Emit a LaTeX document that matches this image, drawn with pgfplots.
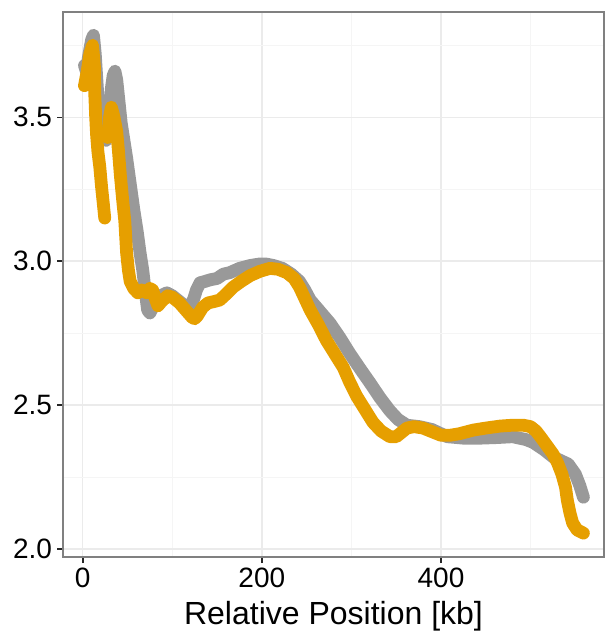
\documentclass[border=0pt]{standalone}
\usepackage{pgfplots}
\pgfplotsset{compat=1.18}
\usepackage{fontspec}
\setmainfont{Liberation Sans}
\definecolor{grayc}{HTML}{999999}
\definecolor{orangec}{HTML}{E69F00}
\begin{document}
\begin{tikzpicture}
\useasboundingbox (-31.5pt,-39pt) rectangle (272pt,278.5pt);
\begin{axis}[
  at={(0,0)}, anchor=south west,
  scale only axis, width=270.5pt, height=272.5pt,
  xmin=-22, xmax=582, ymin=1.972, ymax=3.866,
  xtick={0,200,400}, minor xtick={100,300,500},
  ytick={2,2.5,3,3.5}, minor ytick={2.25,2.75,3.25,3.75},
  grid=both,
  major grid style={line width=0.7pt, color=black!8},
  minor grid style={line width=0.45pt, color=black!4},
  axis line style={draw=black!50, line width=1pt},
  tick align=outside, tick pos=left,
  major tick length=3pt, minor tick length=0pt,
  major tick style={black!85, line width=0.8pt},
  /pgf/number format/assume math mode=true,
  tick label style={font=\fontsize{14}{16}\selectfont, black},
  yticklabel style={xshift=1pt, /pgf/number format/.cd, fixed, fixed zerofill, precision=1},
  xticklabel style={yshift=1pt},
  xlabel={Relative Position [kb]},
  xlabel style={font=\fontsize{16}{18}\selectfont, at={(axis description cs:0.5,0)}, anchor=base, yshift=-33.5pt},
  every axis plot/.append style={line width=6.4pt, line cap=round, line join=round, mark=none},
]
\addplot[color=grayc] coordinates {
(2,3.68)(4,3.66)(7,3.72)(10,3.77)(12,3.785)(14,3.72)(16,3.62)(18,3.52)(20,3.47)(23,3.43)(26,3.42)(28,3.44)(30,3.52)(32,3.6)(34,3.645)(36,3.66)(38,3.63)(40,3.57)(43,3.48)(46,3.42)(49,3.36)(53,3.27)(57,3.18)(61,3.1)(64,3.03)(67,2.97)(70,2.89)(72.5,2.83)(75,2.82)(80,2.85)(87,2.88)(94,2.89)(100,2.88)(108,2.86)(116,2.84)(120,2.84)(124,2.87)(127,2.9)(131,2.925)(137,2.93)(142,2.935)(150,2.94)(157,2.955)(164,2.96)(175,2.975)(187,2.985)(197,2.99)(205,2.99)(213,2.985)(223,2.975)(233,2.955)(242,2.93)(248,2.9)(254,2.865)(265,2.825)(276,2.785)(287,2.735)(298,2.68)(310,2.625)(321,2.576)(332,2.525)(343,2.48)(352,2.45)(362,2.43)(376,2.425)(390,2.415)(407,2.39)(425,2.385)(444,2.385)(462,2.387)(480,2.39)(495,2.38)(503,2.37)(515,2.345)(525,2.32)(535,2.305)(542,2.295)(550,2.26)(555,2.22)(559,2.18)
};
\addplot[color=orangec] coordinates {
(2,3.61)(5,3.66)(8,3.72)(11,3.75)(13,3.68)(13.5,3.58)(14.5,3.5)(15.5,3.44)(17,3.38)(19,3.33)(21,3.26)(23,3.2)(24.6,3.15)
};
\addplot[color=orangec] coordinates {
(28,3.43)(30,3.5)(32,3.535)(35,3.5)(38,3.45)(40,3.38)(42,3.3)(45,3.2)(47,3.14)(49,3.03)(51,2.97)(53,2.93)(57,2.905)(61.5,2.89)(66,2.9)(71.5,2.89)(75,2.905)(78,2.9)(81,2.87)(84,2.845)(88,2.86)(95,2.88)(100,2.875)(108,2.855)(115,2.83)(122,2.805)(125,2.8)(128,2.81)(134,2.84)(140,2.855)(147,2.86)(153,2.865)(160,2.885)(168,2.91)(177,2.93)(187,2.95)(198,2.965)(209,2.975)(218,2.972)(228,2.96)(236,2.94)(242,2.91)(248,2.87)(254,2.83)(263,2.78)(272,2.725)(281,2.68)(291,2.63)(298,2.58)(306,2.53)(315,2.485)(324,2.44)(333,2.41)(343,2.39)(350,2.39)(356,2.405)(362,2.42)(370,2.425)(380,2.42)(392,2.405)(400,2.395)(410,2.395)(420,2.4)(436,2.413)(450,2.42)(466,2.427)(480,2.43)(492,2.43)(500,2.425)(506,2.41)(511,2.39)(518,2.36)(525,2.33)(530,2.3)(535,2.26)(539,2.215)(541,2.17)(544,2.125)(547,2.09)(552,2.066)(559,2.055)
};
\end{axis}
\end{tikzpicture}
\end{document}
